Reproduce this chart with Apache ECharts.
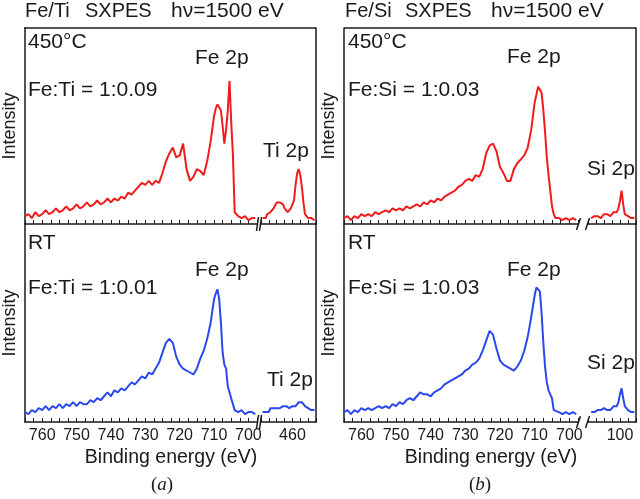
<!DOCTYPE html>
<html>
<head>
<meta charset="utf-8">
<script src="https://cdn.jsdelivr.net/npm/echarts@6/dist/echarts.min.js"></script>
<style>html,body{margin:0;padding:0;background:#fff}#c{width:640px;height:499px}</style>
</head>
<body>
<div id="c"></div>
<script>
// ---------- data ----------
const feEnergy = [765,764,763,762,761,760,759,758,757,756,755,754,753,752,751,750,749,748,747,746,745,744,743,742,741,740,739,738,737,736,735,734,733,732,731,730,729,728,727,726,725,724,723,722,721,720,719,718,717,716,715,714,713,712,711,710,709.5,709,708.5,708,707.5,707,706.5,706,705.5,705,704.5,704,703,702,701,700,699,698];
const tiEnergy = [469.5,469,468.5,468,467.5,467,466.5,466,465.5,465,464.5,464,463.5,463,462.5,462,461.5,461,460.5,460,459.5,459,458.5,458,457.5,457,456.5,456,455.5,455,454.5,454,453.5,453];
const siEnergy = [109,108.5,108,107.5,107,106.5,106,105.5,105,104.5,104,103.5,103,102.5,102,101.5,101,100.5,100,99.5,99,98.5,98,97.5,97,96.5,96,95.5];

// Fe/Ti 450°C
const feTi450 = [4,5,3,6,4,5,7,5,6,8, 6,7,9,7,8,10,8,9,11,9, 10,12,10,11,13,11,13,12,14,13, 16,15,17,19,21,20,22,20,22,21, 26,32,36,39,34,35,41,28,22,24, 28,27,25,32,42,55, 59,61,62,58,50,41,48,58,73,52,35,6, 4,3,4,2,3,3];
const ti450 = [3,4,3,5,4,6,7,8,9,11,12,11,12,10,8,7,6,7,8,10,12,20,26,28,25,19,11,5,4,3,4,3,3,2];
// Fe/Ti RT
const feTiRT = [5,4,6,5,7,6,8,6,8,7, 9,7,9,8,10,8,10,9,9,11, 10,12,11,13,15,13,16,15,17,16, 18,20,19,21,23,22,25,24,27,30, 35,40,42,40,33,29,27,26,25,24, 27,32,36,42,50,62, 65,67,62,50,35,29,27,18,15,14,9,6, 5,6,4,5,5,4];
const tiRT = [5,6,5,6,5,7,6,7,6,7,8,7,7,8,7,8,8,7,8,8,9,8,9,10,9,10,9,8,8,7,8,6,7,6];
// Fe/Si 450°C
const feSi450 = [3,4,2,4,3,5,4,5,4,6, 5,6,7,6,8,7,8,7,9,8, 9,10,9,11,10,12,11,13,12,14, 15,16,17,19,20,22,23,22,25,24, 28,36,40,41,37,29,26,22,22,28, 31,33,35,39,48,62, 66,70,71,67,58,47,34,25,17,9,5,3, 3,2,3,2,3,2];
const si450 = [3,3,4,3,4,4,3,4,5,4,5,5,4,5,6,5,6,8,12,17,10,5,5,4,4,3,4,3];
// Fe/Si RT
const feSiRT = [5,6,4,6,5,7,6,7,6,7, 8,7,8,7,9,8,10,9,11,12, 11,13,15,14,14,13,15,16,17,19, 20,21,22,23,24,26,27,29,30,32, 36,41,46,44,37,31,29,28,27,26, 28,31,36,43,53,64, 68,68,66,55,40,28,20,16,14,12,6,5, 5,4,5,4,5,4];
const siRT = [5,6,5,5,6,5,6,6,7,6,6,7,6,7,8,7,8,10,14,17,12,8,7,6,6,5,6,5];

const feTickLabels = [760,750,740,730,720,710,700];
const tiTickLabels = [460];
const siTickLabels = [100];

// ---------- layout ----------
const FONT = '"Liberation Sans", Arial, sans-serif';
const INK = '#1a1a1a';
const RED = '#f01c1c';
const BLUE = '#2a48ee';
const UP = {top: 28, height: 196};
const LO = {top: 224, height: 198};

const panels = [
  {feLeft: 24, feWidth: 233, subLeft: 261, subWidth: 55, subMin: 452.5, subMax: 470, subTicks: tiTickLabels,
   subE: tiEnergy, upFe: feTi450, upSub: ti450, loFe: feTiRT, loSub: tiRT},
  {feLeft: 344, feWidth: 234, subLeft: 588, subWidth: 48, subMin: 95, subMax: 110, subTicks: siTickLabels,
   subE: siEnergy, upFe: feSi450, upSub: si450, loFe: feSiRT, loSub: siRT}
];

const grid = [], xAxis = [], yAxis = [], series = [];
function pairs(xs, ys) { return xs.map((x, i) => [x, ys[i]]); }

function addGrid(left, width, row, min, max, ticks, showLabels, isFe, data, color) {
  const gi = grid.length;
  grid.push({left: left, top: row.top, width: width, height: row.height, containLabel: false});
  xAxis.push({
    gridIndex: gi, type: 'value', inverse: true, min: min, max: max, interval: 2.5,
    axisLine: {show: true, onZero: false, lineStyle: {color: INK, width: 1.5}},
    axisTick: {show: true, inside: true, length: 4, lineStyle: {color: INK, width: 1}},
    axisLabel: {show: showLabels, margin: 6, fontFamily: FONT, fontSize: 16, color: INK,
      showMinLabel: true, showMaxLabel: true,
      formatter: v => ticks.indexOf(Math.round(v * 100) / 100) >= 0 ? String(v) : ''},
    splitLine: {show: false}
  });
  yAxis.push({
    gridIndex: gi, type: 'value', min: 0, max: 100, position: isFe ? 'left' : 'right',
    axisLine: {show: true, lineStyle: {color: INK, width: 1.5}},
    axisTick: {show: false}, axisLabel: {show: false}, splitLine: {show: false},
    name: isFe ? 'Intensity' : '', nameLocation: 'middle', nameGap: 6,
    nameTextStyle: {fontFamily: FONT, fontSize: 18, color: INK}
  });
  series.push({
    type: 'line', xAxisIndex: gi, yAxisIndex: gi, data: data, showSymbol: false,
    lineStyle: {color: color, width: 2}, itemStyle: {color: color}, silent: true, animation: false
  });
}

panels.forEach(p => {
  addGrid(p.feLeft, p.feWidth, UP, 697.5, 765, feTickLabels, false, true, pairs(feEnergy, p.upFe), RED);
  addGrid(p.subLeft, p.subWidth, UP, p.subMin, p.subMax, p.subTicks, false, false, pairs(p.subE, p.upSub), RED);
  addGrid(p.feLeft, p.feWidth, LO, 697.5, 765, feTickLabels, true, true, pairs(feEnergy, p.loFe), BLUE);
  addGrid(p.subLeft, p.subWidth, LO, p.subMin, p.subMax, p.subTicks, true, false, pairs(p.subE, p.loSub), BLUE);
});

// ---------- text & decorations ----------
const graphic = [];
function txt(s, x, y, size, align, fam) {
  graphic.push({type: 'text', x: x, y: y, silent: true,
    style: {text: s, font: size + 'px ' + (fam || FONT), fill: INK, align: align || 'left', verticalAlign: 'middle'}});
}
function ln(x1, y1, x2, y2) {
  graphic.push({type: 'line', silent: true, shape: {x1: x1, y1: y1, x2: x2, y2: y2},
    style: {stroke: INK, lineWidth: 1.5}});
}

// titles
txt('Fe/Ti', 25, 11, 20); txt('SXPES', 85, 11, 20); txt('h\u03bd=1500 eV', 171, 11, 21);
txt('Fe/Si', 345, 11, 20); txt('SXPES', 405, 11, 20); txt('h\u03bd=1500 eV', 491, 11, 21);
// top borders
ln(24, 28, 316, 28); ln(344, 28, 636, 28);
// panel (a)
txt('450\u00b0C', 28, 42, 21); txt('Fe:Ti = 1:0.09', 28, 90, 21); txt('Fe 2p', 195, 58, 21); txt('Ti 2p', 263, 151, 21);
txt('RT', 28, 243, 21); txt('Fe:Ti = 1:0.01', 28, 288, 21); txt('Fe 2p', 195, 270, 21); txt('Ti 2p', 267, 380, 21);
txt('Binding energy (eV)', 171, 458, 19.5, 'center');
// panel (b)
txt('450\u00b0C', 348, 42, 21); txt('Fe:Si = 1:0.03', 348, 90, 21); txt('Fe 2p', 507, 57, 21); txt('Si 2p', 587, 169, 21);
txt('RT', 348, 243, 21); txt('Fe:Si = 1:0.03', 348, 288, 21); txt('Fe 2p', 507, 270, 21); txt('Si 2p', 587, 363, 21);
txt('Binding energy (eV)', 491, 458, 19.5, 'center');
// (a) (b)
['a', 'b'].forEach((l, i) => {
  graphic.push({type: 'text', x: i ? 480 : 162, y: 485, silent: true,
    style: {text: '{n|(}{i|' + l + '}{n|)}', align: 'center', verticalAlign: 'middle', fill: INK,
      rich: {n: {font: '19px "Liberation Serif", serif', fill: INK}, i: {font: 'italic 19px "Liberation Serif", serif', fill: INK}}}});
});
// axis breaks
[224, 422].forEach(y => {
  ln(256.5, y + 7, 258.5, y - 7); ln(259.5, y + 7, 261.5, y - 7);
  ln(576.5, y + 6, 580.5, y - 6); ln(585.5, y + 6, 589.5, y - 6);
});

const chart = echarts.init(document.getElementById('c'), null, {renderer: 'canvas'});
chart.setOption({
  backgroundColor: '#fff', animation: false,
  grid: grid, xAxis: xAxis, yAxis: yAxis, series: series, graphic: graphic
});
</script>
</body>
</html>
